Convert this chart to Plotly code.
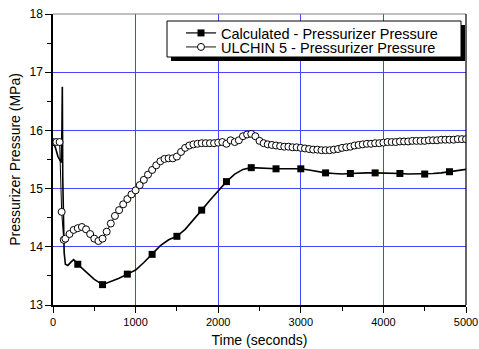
import plotly.graph_objects as go

# Calculated - Pressurizer Pressure (continuous line)
calc_t = [0, 30, 60, 90, 100, 108, 113, 118, 125, 135, 150, 180, 220, 250, 270, 300,
          400, 500, 600, 700, 800, 900, 1000, 1100, 1200, 1300, 1400, 1500, 1600, 1700,
          1800, 1900, 2000, 2100, 2200, 2300, 2400, 2500, 2600, 2700, 2800, 2900, 3000,
          3100, 3200, 3300, 3400, 3500, 3600, 3700, 3800, 3900, 4000, 4100, 4200, 4300,
          4400, 4500, 4600, 4700, 4800, 4900, 5000]
calc_p = [15.80, 15.70, 15.55, 15.46, 15.45, 16.00, 16.75, 15.20, 14.30, 13.90, 13.70, 13.68,
          13.74, 13.78, 13.75, 13.70, 13.57, 13.44, 13.35, 13.40, 13.46, 13.53, 13.60, 13.73,
          13.87, 14.02, 14.12, 14.18, 14.30, 14.46, 14.63, 14.80, 14.96, 15.12, 15.25, 15.33,
          15.36, 15.35, 15.34, 15.34, 15.34, 15.34, 15.34, 15.32, 15.29, 15.27, 15.26, 15.25,
          15.26, 15.27, 15.27, 15.27, 15.27, 15.27, 15.26, 15.25, 15.25, 15.25, 15.26, 15.27,
          15.29, 15.31, 15.33]

# Calculated markers (every 300 s)
mark_t = [300, 600, 900, 1200, 1500, 1800, 2100, 2400, 2700, 3000, 3300, 3600, 3900, 4200, 4500, 4800]
mark_p = [13.70, 13.35, 13.53, 13.87, 14.18, 14.63, 15.12, 15.36, 15.34, 15.34, 15.27, 15.26,
          15.27, 15.26, 15.25, 15.29]

# ULCHIN 5 - Pressurizer Pressure (plant data)
ul_t = [0, 40, 80, 105, 130, 150, 200, 250, 300, 350, 400, 450, 500, 550, 600, 650, 700, 750,
        800, 850, 900, 950, 1000, 1050, 1100, 1150, 1200, 1250, 1300, 1350, 1400, 1450, 1500,
        1550, 1600, 1650, 1700, 1750, 1800, 1850, 1900, 1950, 2000, 2050, 2100, 2150, 2200,
        2250, 2300, 2350, 2400, 2450, 2500, 2550, 2600, 2650, 2700, 2750, 2800, 2850, 2900,
        2950, 3000, 3050, 3100, 3150, 3200, 3250, 3300, 3350, 3400, 3450, 3500, 3550, 3600,
        3650, 3700, 3750, 3800, 3850, 3900, 3950, 4000, 4050, 4100, 4150, 4200, 4250, 4300,
        4350, 4400, 4450, 4500, 4550, 4600, 4650, 4700, 4750, 4800, 4850, 4900, 4950, 5000]
ul_p = [15.80, 15.80, 15.80, 14.60, 14.12, 14.14, 14.22, 14.29, 14.32, 14.34, 14.30, 14.22,
        14.14, 14.10, 14.14, 14.26, 14.40, 14.53, 14.63, 14.73, 14.82, 14.90, 14.97, 15.06,
        15.15, 15.24, 15.32, 15.40, 15.47, 15.51, 15.52, 15.52, 15.55, 15.63, 15.70, 15.74,
        15.76, 15.77, 15.78, 15.78, 15.78, 15.78, 15.79, 15.80, 15.77, 15.83, 15.80, 15.83,
        15.90, 15.93, 15.94, 15.90, 15.82, 15.78, 15.76, 15.75, 15.74, 15.73, 15.72, 15.72,
        15.71, 15.71, 15.70, 15.69, 15.68, 15.67, 15.67, 15.66, 15.66, 15.66, 15.67, 15.68,
        15.70, 15.71, 15.72, 15.74, 15.75, 15.76, 15.77, 15.77, 15.78, 15.78, 15.79, 15.80,
        15.80, 15.80, 15.81, 15.81, 15.81, 15.82, 15.82, 15.82, 15.82, 15.83, 15.83, 15.83,
        15.84, 15.84, 15.84, 15.84, 15.85, 15.85, 15.85]

names = ["Calculated - Pressurizer Pressure", "ULCHIN 5 - Pressurizer Pressure"]

FONT = "Arial, Liberation Sans, sans-serif"
GRID = "rgb(70,70,255)"

fig = go.Figure()

fig.add_trace(go.Scatter(x=calc_t, y=calc_p, mode="lines",
                         line=dict(color="black", width=1.6), showlegend=False, hoverinfo="skip"))
fig.add_trace(go.Scatter(x=mark_t, y=mark_p, mode="markers",
                         marker=dict(symbol="square", size=7, color="black"), showlegend=False))
fig.add_trace(go.Scatter(x=ul_t, y=ul_p, mode="lines+markers",
                         line=dict(color="black", width=1),
                         marker=dict(symbol="circle", size=7, color="white",
                                     line=dict(color="black", width=1)),
                         showlegend=False))

# legend entries (one legend per row to control row spacing)
fig.add_trace(go.Scatter(x=[None], y=[None], mode="lines+markers", name=names[0],
                         line=dict(color="black", width=1.2),
                         marker=dict(symbol="square", size=7, color="black"),
                         legend="legend"))
fig.add_trace(go.Scatter(x=[None], y=[None], mode="lines+markers", name=names[1],
                         line=dict(color="rgb(60,60,60)", width=1.2),
                         marker=dict(symbol="circle", size=7, color="white",
                                     line=dict(color="black", width=1)),
                         legend="legend2"))

# the page body margin is removed by a post script, so figure pixels = window pixels
W, H = 479, 349
PL, PR, PT, PB = 53, 466, 14, 305   # plot area in window pixels
L, R, T, B = PL, W - PR, PT, H - PB
pw, ph = PR - PL, PB - PT

def px2paper(x, y):
    return (x - PL) / pw, (PB - y) / ph

sx0, sy1 = px2paper(171, 25)
sx1, sy0 = px2paper(465, 61)
bx0, by1 = px2paper(167, 21)
bx1, by0 = px2paper(461, 57)

shapes = [
    dict(type="rect", xref="paper", yref="paper", x0=sx0, x1=sx1, y0=sy0, y1=sy1,
         fillcolor="black", line=dict(width=0), layer="above"),
    dict(type="rect", xref="paper", yref="paper", x0=bx0, x1=bx1, y0=by0, y1=by1,
         fillcolor="white", line=dict(color="black", width=1), layer="above"),
    dict(type="line", xref="paper", yref="paper", x0=0, x1=1, y0=1, y1=1,
         line=dict(color="rgb(128,128,128)", width=1.2)),
    dict(type="line", xref="paper", yref="paper", x0=1, x1=1, y0=0, y1=1,
         line=dict(color="black", width=1.2)),
]

l1x, l1y = px2paper(181, 33)
l2x, l2y = px2paper(181, 47)
leg_common = dict(xanchor="left", yanchor="middle", bgcolor="rgba(0,0,0,0)", borderwidth=0,
                  font=dict(family=FONT, size=14.5))

fig.update_layout(
    width=W, height=H,
    margin=dict(l=L, r=R, t=T, b=B, autoexpand=False),
    paper_bgcolor="white", plot_bgcolor="white",
    font=dict(family=FONT, color="black", size=12),
    shapes=shapes,
    legend=dict(x=l1x, y=l1y, **leg_common),
    legend2=dict(x=l2x, y=l2y, **leg_common),
    xaxis=dict(range=[0, 5000], tickvals=[0, 1000, 2000, 3000, 4000, 5000],
               showgrid=True, gridcolor=GRID, gridwidth=1, automargin=False,
               ticklabeloverflow="allow",
               showline=True, linecolor="black", linewidth=1.5,
               ticks="outside", ticklen=6, tickwidth=1, tickcolor="black",
               minor=dict(tickvals=[500, 1500, 2500, 3500, 4500], ticks="outside",
                          ticklen=4, tickcolor="black", showgrid=False),
               tickfont=dict(size=11), zeroline=False,
               title=dict(text="Time (seconds)", font=dict(size=14), standoff=8)),
    yaxis=dict(range=[13, 18], tickvals=[13, 14, 15, 16, 17, 18],
               showgrid=True, gridcolor=GRID, gridwidth=1, automargin=False,
               ticklabeloverflow="allow",
               showline=True, linecolor="black", linewidth=1.5,
               ticks="outside", ticklen=6, tickwidth=1, tickcolor="black",
               minor=dict(tickvals=[13.5, 14.5, 15.5, 16.5, 17.5], ticks="outside",
                          ticklen=4, tickcolor="black", showgrid=False),
               tickfont=dict(size=12), zeroline=False,
               title=dict(text="Pressurizer Pressure (MPa)", font=dict(size=14), standoff=6)),
)

fig.write_html("out.html", config={"displayModeBar": False},
               post_script="document.body.style.margin='0';document.body.style.overflow='hidden';")
